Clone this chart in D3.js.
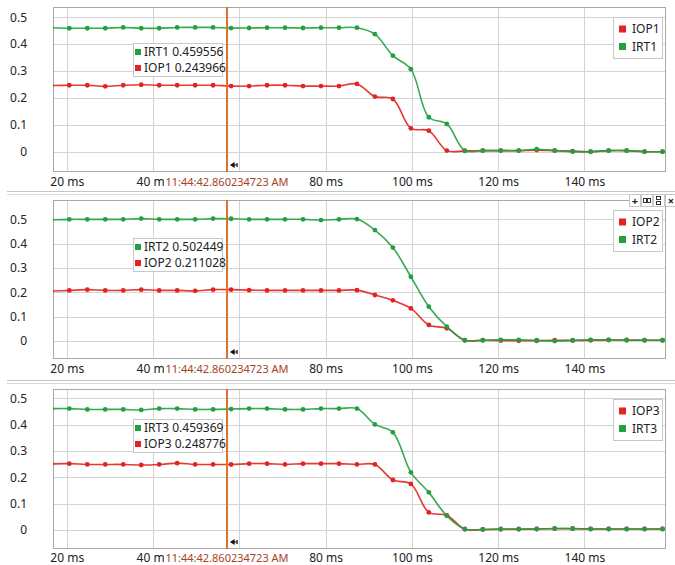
<!DOCTYPE html>
<html>
<head>
<meta charset="utf-8">
<script src="https://cdn.jsdelivr.net/npm/d3@7"></script>
<style>
  body { margin: 0; background: #fff; }
  svg text { font-family: "Segoe UI", "Noto Sans", "Open Sans", sans-serif; }
</style>
</head>
<body>
<svg id="chart" width="675" height="565"></svg>
<script>
// Sample instants (ms) of the recorded channels
const sampleTimes = [16.43, 20.6, 24.77, 28.93, 33.1, 37.27, 41.43, 45.6, 49.77, 53.93,
  58.1, 62.27, 66.43, 70.6, 74.77, 78.93, 83.1, 87.27, 91.43, 95.6,
  99.77, 103.93, 108.1, 112.27, 116.43, 120.6, 124.77, 128.93, 133.1, 137.27,
  141.43, 145.6, 149.77, 153.93, 158.1];

// Axis ticks
const xTicks = [20, 40, 60, 80, 100, 120, 140];
const yTicks = [0, 0.1, 0.2, 0.3, 0.4, 0.5];

// Channel values
const IOP1 = [0.246, 0.247, 0.247, 0.243, 0.247, 0.249, 0.247, 0.247, 0.247, 0.247, 0.243966,
  0.244, 0.247, 0.247, 0.244, 0.244, 0.244, 0.252, 0.205, 0.196, 0.087,
  0.078, 0.004, 0.003, 0.004, 0.004, 0.004, 0.006, 0.004, 0.002, 0.000,
  0.004, 0.004, 0.000, 0.000];
const IRT1 = [0.461, 0.459, 0.459, 0.459, 0.462, 0.459, 0.459, 0.462, 0.462, 0.462, 0.459556,
  0.460, 0.461, 0.461, 0.460, 0.461, 0.461, 0.461, 0.437, 0.357, 0.307,
  0.128, 0.103, 0.004, 0.004, 0.004, 0.004, 0.009, 0.004, 0.000, 0.000,
  0.004, 0.004, 0.000, 0.000];
const IOP2 = [0.205, 0.208, 0.211, 0.208, 0.208, 0.211, 0.208, 0.208, 0.206, 0.211, 0.211028,
  0.209, 0.208, 0.208, 0.208, 0.208, 0.208, 0.209, 0.189, 0.167, 0.134,
  0.066, 0.052, 0.003, 0.003, 0.002, 0.001, 0.001, 0.003, 0.002, 0.003,
  0.004, 0.004, 0.003, 0.003];
const IRT2 = [0.498, 0.500, 0.500, 0.500, 0.500, 0.503, 0.500, 0.500, 0.500, 0.503, 0.502449,
  0.500, 0.500, 0.500, 0.500, 0.497, 0.500, 0.501, 0.456, 0.384, 0.264,
  0.141, 0.059, 0.003, 0.003, 0.005, 0.005, 0.003, 0.000, 0.003, 0.005,
  0.005, 0.003, 0.003, 0.003];
const IOP3 = [0.251, 0.252, 0.249, 0.249, 0.249, 0.247, 0.249, 0.254, 0.249, 0.249, 0.248776,
  0.252, 0.252, 0.249, 0.252, 0.252, 0.252, 0.249, 0.249, 0.190, 0.175,
  0.067, 0.056, 0.003, 0.002, 0.003, 0.003, 0.004, 0.005, 0.005, 0.004,
  0.004, 0.004, 0.004, 0.004];
const IRT3 = [0.461, 0.461, 0.458, 0.458, 0.458, 0.456, 0.461, 0.461, 0.458, 0.458, 0.459369,
  0.461, 0.461, 0.458, 0.458, 0.461, 0.461, 0.461, 0.401, 0.371, 0.219,
  0.143, 0.054, 0.004, 0.002, 0.004, 0.004, 0.004, 0.006, 0.006, 0.004,
  0.004, 0.004, 0.004, 0.004];

// Cursor
const cursorTime = 57.16;
const cursorLabel = "11:44:42.860234723 AM";

const RED = "#e3231f";
const GREEN = "#22a040";

const panels = [
  { top: 7,   bottom: 172, yDomain: [-0.0755, 0.538], tipY: 43,
    series: [{ name: "IOP1", values: IOP1, color: RED }, { name: "IRT1", values: IRT1, color: GREEN }] },
  { top: 200, bottom: 359, yDomain: [-0.074, 0.5795], tipY: 238,
    series: [{ name: "IOP2", values: IOP2, color: RED }, { name: "IRT2", values: IRT2, color: GREEN }] },
  { top: 389, bottom: 549, yDomain: [-0.072, 0.5355], tipY: 419,
    series: [{ name: "IOP3", values: IOP3, color: RED }, { name: "IRT3", values: IRT3, color: GREEN }] }
];

const left = 53, right = 666;
const svg = d3.select("#chart");
const defs = svg.append("defs");

const x = d3.scaleLinear().domain([16.82, 158.9]).range([left, right]);

// sample nearest to the cursor supplies the readout
const cursorIdx = d3.minIndex(sampleTimes, t => Math.abs(t - cursorTime));

// panel separators
[[191, 194], [380, 383]].forEach(pair => {
  svg.append("line").attr("x1", 7).attr("x2", 675).attr("y1", pair[0] + 0.5).attr("y2", pair[0] + 0.5)
    .attr("stroke", "#c4c4c4");
  svg.append("line").attr("x1", 7).attr("x2", 675).attr("y1", pair[1] + 0.5).attr("y2", pair[1] + 0.5)
    .attr("stroke", "#dadada");
});

panels.forEach((p, pi) => {
  const y = d3.scaleLinear().domain(p.yDomain).range([p.bottom, p.top]);
  const g = svg.append("g");
  const clipId = "clip" + pi;
  defs.append("clipPath").attr("id", clipId).append("rect")
    .attr("x", left).attr("y", p.top).attr("width", right - left).attr("height", p.bottom - p.top);

  const baseY = Math.min(p.bottom + 14, 562);
  const cx = x(cursorTime);

  // grid
  g.append("g").selectAll("line").data(yTicks).join("line")
    .attr("x1", left).attr("x2", right)
    .attr("y1", d => Math.round(y(d)) + 0.5).attr("y2", d => Math.round(y(d)) + 0.5)
    .attr("stroke", "#d4d4d4");
  g.append("g").selectAll("line").data(xTicks).join("line")
    .attr("x1", d => Math.round(x(d)) + 0.5).attr("x2", d => Math.round(x(d)) + 0.5)
    .attr("y1", p.top).attr("y2", p.bottom)
    .attr("stroke", "#d4d4d4");

  // y axis labels
  const yAxis = d3.axisLeft(y).tickValues(yTicks).tickSize(0).tickPadding(0)
    .tickFormat(d => d === 0 ? "0" : d3.format(".1f")(d));
  const ya = g.append("g").attr("transform", `translate(27,0)`).call(yAxis);
  ya.select(".domain").remove();
  ya.selectAll("text").attr("font-size", 12).attr("fill", "#222").attr("font-family", null);

  // cursor time label (measured first so the axis labels can give way to it)
  const lblG = g.append("g");
  const lbl = lblG.append("text").attr("x", cx).attr("y", baseY)
    .attr("text-anchor", "middle").attr("font-size", 11).attr("fill", "#a3431f")
    .text(cursorLabel);
  const bb = lbl.node().getBBox();
  lblG.insert("rect", "text").attr("x", bb.x - 1).attr("y", bb.y)
    .attr("width", bb.width + 2).attr("height", bb.height).attr("fill", "#fff");
  const lblLeft = bb.x - 1, lblRight = bb.x + bb.width + 1;

  // x axis labels; the one sitting under the cursor label is covered by it
  const visibleTicks = xTicks.filter(t => x(t) < lblLeft || x(t) > lblRight);
  const labelClip = "lclip" + pi;
  defs.append("clipPath").attr("id", labelClip).append("path")
    .attr("d", `M0,${p.bottom} H${lblLeft} V${p.bottom + 30} H0 Z M${lblRight},${p.bottom} H675 V${p.bottom + 30} H${lblRight} Z`);
  const xAxis = d3.axisBottom(x).tickValues(visibleTicks).tickSize(0).tickPadding(0)
    .tickFormat(d => d + " ms");
  const xaOuter = g.insert("g", () => lblG.node()).attr("clip-path", `url(#${labelClip})`);
  const xa = xaOuter.append("g").attr("transform", `translate(0,${baseY})`).call(xAxis);
  xa.select(".domain").remove();
  xa.selectAll("text").attr("dy", null).attr("y", 0).attr("font-size", 12).attr("fill", "#222").attr("font-family", null);

  // frame
  g.append("rect").attr("x", left + 0.5).attr("y", p.top + 0.5)
    .attr("width", right - left - 1).attr("height", p.bottom - p.top - 1)
    .attr("fill", "none").attr("stroke", "#a8a8a8");

  // series
  const line = d3.line().x((d, i) => x(sampleTimes[i])).y(d => y(d))
    .curve(d3.curveCatmullRom.alpha(0.5));
  const plot = g.append("g").attr("clip-path", `url(#${clipId})`);
  p.series.forEach(s => {
    plot.append("path").attr("d", line(s.values)).attr("fill", "none")
      .attr("stroke", s.color).attr("stroke-width", 1.6).attr("stroke-opacity", 0.9);
    plot.append("g").selectAll("circle").data(s.values).join("circle")
      .attr("cx", (d, i) => x(sampleTimes[i])).attr("cy", d => y(d))
      .attr("r", 2.4).attr("fill", s.color);
  });

  // cursor
  g.append("line").attr("x1", cx).attr("x2", cx).attr("y1", p.top).attr("y2", p.bottom)
    .attr("stroke", "#dc6f2a").attr("stroke-width", 2);
  const ay = p.bottom - 7;
  g.append("path")
    .attr("d", `M${cx + 4},${ay} L${cx + 10},${ay} M${cx + 4},${ay} l3,-2 l0,4 Z M${cx + 10},${ay - 2} L${cx + 10},${ay + 2}`)
    .attr("stroke", "#111").attr("stroke-width", 1.2).attr("fill", "#111");

  // readout box
  const tip = g.append("g").attr("transform", `translate(133,${p.tipY})`);
  tip.append("rect").attr("x", 0.5).attr("y", 0.5).attr("width", 89).attr("height", 33)
    .attr("fill", "#fff").attr("stroke", "#c8c8c8");
  [p.series[1], p.series[0]].forEach((s, i) => {
    const ry = 9 + i * 16;
    tip.append("rect").attr("x", 2).attr("y", ry - 3).attr("width", 6).attr("height", 6).attr("fill", s.color);
    tip.append("text").attr("x", 11).attr("y", ry).attr("dy", "0.35em")
      .attr("font-size", 12).attr("fill", "#222")
      .text(`${s.name} ${d3.format(".6f")(s.values[cursorIdx])}`);
  });

  // legend
  const lg = g.append("g").attr("transform", `translate(613,${p.top + 10})`);
  lg.append("rect").attr("x", 0.5).attr("y", 0.5).attr("width", 49).attr("height", 41)
    .attr("fill", "#fff").attr("stroke", "#c8c8c8");
  p.series.forEach((s, i) => {
    const ry = 12 + i * 17.5;
    lg.append("rect").attr("x", 6).attr("y", ry - 3.5).attr("width", 7).attr("height", 7).attr("fill", s.color);
    lg.append("text").attr("x", 19).attr("y", ry).attr("dy", "0.35em")
      .attr("font-size", 12).attr("fill", "#222").text(s.name);
  });
});

// small toolbar on the middle panel
const tb = svg.append("g").attr("transform", "translate(629,194)");
["+", "", "", "×"].forEach((c, i) => {
  const bx = i * 12;
  tb.append("rect").attr("x", bx + 0.5).attr("y", 0.5).attr("width", 11).attr("height", 12)
    .attr("fill", "#fff").attr("stroke", "#c8c8c8");
  if (c) {
    tb.append("text").attr("x", bx + 6).attr("y", 7).attr("dy", "0.35em").attr("text-anchor", "middle")
      .attr("font-size", 11).attr("font-weight", "bold").attr("fill", "#222").text(c);
  } else if (i === 1) {
    tb.append("rect").attr("x", bx + 2.5).attr("y", 4.5).attr("width", 3).attr("height", 4).attr("fill", "none").attr("stroke", "#333");
    tb.append("rect").attr("x", bx + 6.5).attr("y", 4.5).attr("width", 3).attr("height", 4).attr("fill", "none").attr("stroke", "#333");
  } else {
    tb.append("rect").attr("x", bx + 3.5).attr("y", 2.5).attr("width", 4).attr("height", 3).attr("fill", "none").attr("stroke", "#333");
    tb.append("rect").attr("x", bx + 3.5).attr("y", 7.5).attr("width", 4).attr("height", 3).attr("fill", "none").attr("stroke", "#333");
  }
});
</script>
</body>
</html>
